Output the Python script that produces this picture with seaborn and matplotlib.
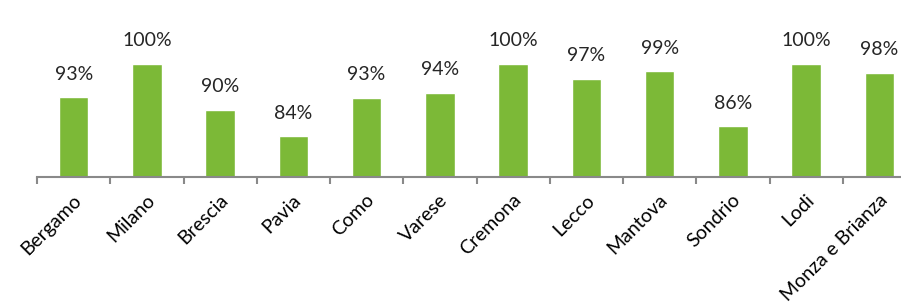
import matplotlib
matplotlib.use("Agg")

import matplotlib.pyplot as plt
import matplotlib.transforms as mtransforms
import numpy as np
import seaborn as sns
from matplotlib.ticker import FixedLocator, NullFormatter

# Data
provinces = ["Bergamo", "Milano", "Brescia", "Pavia", "Como", "Varese",
             "Cremona", "Lecco", "Mantova", "Sondrio", "Lodi", "Monza e Brianza"]
values = [92.7, 100.0, 89.9, 84.0, 92.5, 93.6, 100.0, 96.7, 98.4, 86.2, 100.0, 98.0]
labels = ["93%", "100%", "90%", "84%", "93%", "94%",
          "100%", "97%", "99%", "86%", "100%", "98%"]

sns.set_style("white")
plt.rcParams["font.family"] = ["Lato", "DejaVu Sans"]

fig = plt.figure(figsize=(9.01, 3.06), dpi=100)
# the chart runs past the right edge of the picture, as in the reference
ax = fig.add_axes([37 / 901, 129.5 / 306, 879 / 901, 176.5 / 306])

sns.barplot(x=provinces, y=values, color="#7CB937", width=0.4,
            saturation=1, ax=ax)

ax.set_ylim(75.2, 114)
ax.set_xlim(-0.5, len(provinces) - 0.5)

for i, (v, lab) in enumerate(zip(values, labels)):
    ax.annotate(lab, (i, v), xytext=(0, 12.5), textcoords="offset points",
                ha="center", va="baseline", fontsize=14, color="#262626")

for side in ["top", "left", "right"]:
    ax.spines[side].set_visible(False)
ax.spines["bottom"].set_color("#898989")
ax.spines["bottom"].set_linewidth(1.5)

ax.set_yticks([])
ax.set_xlabel("")
ax.set_ylabel("")

# tick marks sit between categories, labels at the centres
ax.xaxis.set_minor_locator(FixedLocator(np.arange(-0.5, len(provinces), 1)))
ax.xaxis.set_minor_formatter(NullFormatter())
ax.tick_params(axis="x", which="minor", bottom=True, length=5, width=1.5,
               color="#898989", direction="out")
ax.tick_params(axis="x", which="major", bottom=False, length=0, pad=15)
shift = mtransforms.ScaledTranslation(5 / 100, 0, fig.dpi_scale_trans)
for t in ax.get_xticklabels():
    t.set_rotation(45)
    t.set_ha("right")
    t.set_va("center")
    t.set_rotation_mode("anchor")
    t.set_fontsize(14)
    t.set_color("#000000")
    t.set_transform(t.get_transform() + shift)

fig.savefig("out.png", dpi=100)
